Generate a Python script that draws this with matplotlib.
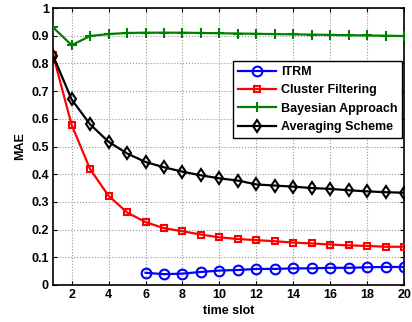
import matplotlib.pyplot as plt
import numpy as np

plt.rcParams['font.family'] = ['Liberation Sans', 'DejaVu Sans']
plt.rcParams['font.weight'] = 'bold'

# Data
slots = list(range(1, 21))
itrm_slots = list(range(6, 21))
itrm = [0.044, 0.039, 0.041, 0.047, 0.052, 0.054, 0.058, 0.058, 0.060,
        0.060, 0.062, 0.062, 0.064, 0.065, 0.065]
cluster = [0.83, 0.578, 0.418, 0.322, 0.262, 0.227, 0.205, 0.194, 0.182, 0.172,
           0.166, 0.162, 0.158, 0.153, 0.150, 0.146, 0.143, 0.141, 0.138, 0.138]
bayes = [0.930, 0.866, 0.899, 0.906, 0.910, 0.911, 0.911, 0.911, 0.910, 0.909,
         0.908, 0.907, 0.906, 0.905, 0.904, 0.903, 0.902, 0.901, 0.900, 0.899]
averaging = [0.828, 0.670, 0.580, 0.517, 0.475, 0.444, 0.425, 0.409, 0.396, 0.385,
             0.377, 0.363, 0.359, 0.355, 0.350, 0.347, 0.342, 0.338, 0.335, 0.333]

fig = plt.figure(figsize=(4.12, 3.22), dpi=100)
ax = fig.add_axes([0.129, 0.115, 0.852, 0.86])

ax.plot(itrm_slots, itrm, color='#0000ff', marker='o', mfc='none', mew=1.5,
        ms=7, lw=1.6, label='ITRM', zorder=4)
ax.plot(slots, cluster, color='#ff0000', marker='s', mfc='none', mew=1.5,
        ms=5, lw=1.6, label='Cluster Filtering', zorder=3)
ax.plot(slots, bayes, color='#008000', marker='+', mew=1.5,
        ms=7, lw=1.6, label='Bayesian Approach', zorder=3)
ax.plot(slots, averaging, color='black', marker='d', mfc='none', mew=1.5,
        ms=6, lw=1.6, label='Averaging Scheme', zorder=3)

ax.set_xlim(1, 20)
ax.set_ylim(0, 1)
ax.set_xticks(np.arange(2, 21, 2))
ax.set_yticks(np.arange(0, 1.01, 0.1))
ax.set_yticklabels(['0', '0.1', '0.2', '0.3', '0.4', '0.5', '0.6', '0.7', '0.8', '0.9', '1'])
ax.tick_params(direction='in', top=True, right=True, labelsize=9, length=3, pad=3)
ax.grid(True, linestyle=':', color='#999999', linewidth=0.8)
for s in ax.spines.values():
    s.set_linewidth(1.2)

ax.set_xlabel('time slot', fontsize=9, fontweight='bold', labelpad=3)
ax.set_ylabel('MAE', fontsize=9, fontweight='bold', labelpad=4)

leg = ax.legend(loc='upper right', bbox_to_anchor=(0.995, 0.808), fontsize=9,
                frameon=True, fancybox=False, framealpha=1, edgecolor='black',
                borderpad=0.4, labelspacing=0.5, handlelength=3.0, handletextpad=0.4,
                borderaxespad=0)
leg.get_frame().set_linewidth(1.0)

plt.savefig('out.png', dpi=100)
